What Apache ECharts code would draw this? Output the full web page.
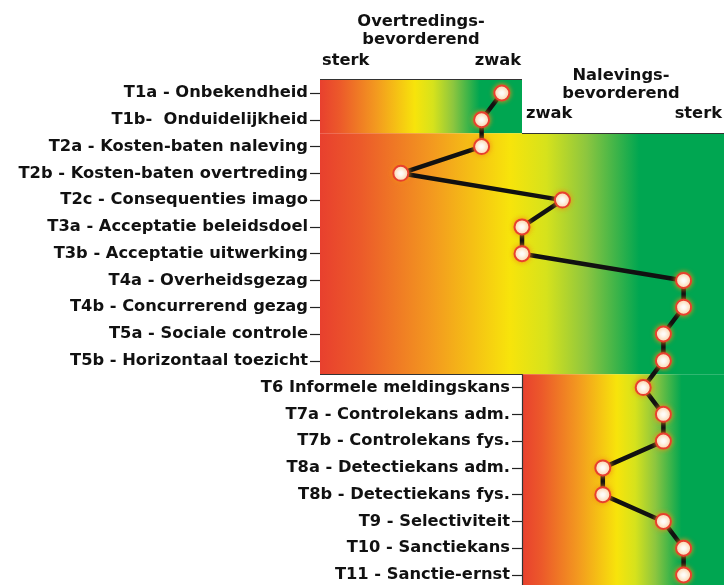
<!DOCTYPE html>
<html><head><meta charset="utf-8">
<script src="https://cdn.jsdelivr.net/npm/echarts@6/dist/echarts.min.js"></script>
<style>html,body{margin:0;padding:0;background:#fff}#c{width:724px;height:585px}</style>
</head><body><div id="c"></div><script>
// ---- data ----
const categories = [
  'T1a - Onbekendheid', 'T1b-  Onduidelijkheid',
  'T2a - Kosten-baten naleving', 'T2b - Kosten-baten overtreding', 'T2c - Consequenties imago',
  'T3a - Acceptatie beleidsdoel', 'T3b - Acceptatie uitwerking',
  'T4a - Overheidsgezag', 'T4b - Concurrerend gezag',
  'T5a - Sociale controle', 'T5b - Horizontaal toezicht',
  'T6 Informele meldingskans', 'T7a - Controlekans adm.', 'T7b - Controlekans fys.',
  'T8a - Detectiekans adm.', 'T8b - Detectiekans fys.',
  'T9 - Selectiviteit', 'T10 - Sanctiekans', 'T11 - Sanctie-ernst'
];
// score: 0 = sterk overtredingsbevorderend, 10 = neutral (zwak), 20 = sterk nalevingsbevorderend
const scores = [9, 8, 8, 4, 12, 10, 10, 18, 18, 17, 17, 16, 17, 17, 14, 14, 17, 18, 18];
// groups of rows: [firstRow, endRow(exclusive), scaleFrom, scaleTo]
const groups = [
  [0, 2, 0, 10],    // T1: only overtredings-bevorderend possible
  [2, 11, 0, 20],   // T2-T5: both sides
  [11, 19, 10, 20]  // T6-T11: only nalevings-bevorderend possible
];
const leftLabelCount = 11;  // rows whose label sits on the left axis
const scaleMin = 0, scaleMid = 10, scaleMax = 20;
const headerLeft = ['Overtredings-', 'bevorderend'];
const headerRight = ['Nalevings-', 'bevorderend'];
const strongLabel = 'sterk', weakLabel = 'zwak';

// ---- styling ----
const gradStops = [
  {offset: 0, color: '#e8402e'},
  {offset: 0.1, color: '#ec5a2a'},
  {offset: 0.28, color: '#f39a1f'},
  {offset: 0.47, color: '#f7e40b'},
  {offset: 0.56, color: '#d6e21c'},
  {offset: 0.66, color: '#8cc63f'},
  {offset: 0.79, color: '#00a651'},
  {offset: 1, color: '#00a651'}
];
const grad = () => ({type: 'linear', x: 0, y: 0, x2: 1, y2: 0, colorStops: gradStops});
const FONT = '"DejaVu Sans", sans-serif';
const lineCol = '#333';

const chart = echarts.init(document.getElementById('c'), null, {renderer: 'canvas'});

const markAreaData = groups.map(g => [
  {xAxis: g[2], yAxis: g[0], itemStyle: {color: grad(), opacity: 1}},
  {xAxis: g[3], yAxis: g[1]}
]);
const nRows = categories.length;
const head = -0.35;
const frameLines = [
  [[scaleMin, head], [scaleMin, groups[1][1]]],
  [[scaleMid, head], [scaleMid, groups[0][1]]],
  [[scaleMid, groups[0][1]], [scaleMax, groups[0][1]]],
  [[scaleMin, 0], [scaleMid, 0]],
  [[scaleMin, groups[1][1]], [scaleMid, groups[1][1]]],
  [[scaleMid, groups[1][1]], [scaleMid, nRows]]
].map(p => [{coord: p[0]}, {coord: p[1]}]);

const isLeft = i => i < leftLabelCount;
const isRight = i => i >= leftLabelCount;
const labelStyle = {fontFamily: FONT, fontWeight: 'bold', fontSize: 16.3, color: '#111'};
function catAxis(show, offset, inside, filter) {
  return {
    type: 'category', data: categories, inverse: true, position: 'left', offset: offset,
    axisLine: {show: false},
    axisTick: {show: true, alignWithLabel: true, inside: inside, length: inside ? 6 : 10,
      interval: (i) => filter(i), lineStyle: {color: '#222', width: 1.2}},
    axisLabel: show ? Object.assign({interval: (i) => filter(i), margin: 12}, labelStyle) : {show: false},
    splitLine: {show: false}
  };
}

const hdr = {fontFamily: FONT, fontWeight: 'bold', fontSize: 16.3, fill: '#111'};
function txt(s, x, y, align) {
  return {type: 'text', x: x, y: y, silent: true,
    style: Object.assign({text: s, align: align, verticalAlign: 'middle'}, hdr)};
}

chart.setOption({
  animation: false,
  backgroundColor: '#fff',
  grid: {left: 320, right: 0, top: 79.6, bottom: -3.4, containLabel: false, outerBoundsMode: 'none'},
  xAxis: {type: 'value', min: scaleMin, max: scaleMax, show: false},
  yAxis: [
    catAxis(true, 0, false, isLeft),
    catAxis(true, -202, false, isRight),
    catAxis(false, 0, true, isLeft),
    catAxis(false, -202, true, isRight),
    {type: 'value', min: 0, max: nRows, inverse: true, show: false}
  ],
  graphic: [
    txt(headerLeft[0], 421, 22, 'center'),
    txt(headerLeft[1], 421, 40, 'center'),
    txt(strongLabel, 322, 61, 'left'),
    txt(weakLabel, 521, 61, 'right'),
    txt(headerRight[0], 621, 76, 'center'),
    txt(headerRight[1], 621, 94, 'center'),
    txt(weakLabel, 526, 114, 'left'),
    txt(strongLabel, 722, 114, 'right')
  ],
  series: [
    {
      type: 'line', yAxisIndex: 4, data: [], silent: true, clip: false, z: 1,
      markArea: {silent: true, data: markAreaData, emphasis: {disabled: true}},
      markLine: {silent: true, symbol: 'none', clip: false, label: {show: false},
        emphasis: {disabled: true},
        lineStyle: {color: lineCol, width: 1.2, type: 'solid'}, data: frameLines}
    },
    {
      type: 'line', yAxisIndex: 0, z: 5,
      data: scores,
      symbol: 'circle', symbolSize: 15,
      lineStyle: {color: '#111', width: 4.5},
      itemStyle: {color: '#fff', borderColor: '#e8402e', borderWidth: 2,
        shadowBlur: 5, shadowColor: 'rgba(243,140,20,0.9)'},
      emphasis: {disabled: true}
    }
  ]
});
</script></body></html>
